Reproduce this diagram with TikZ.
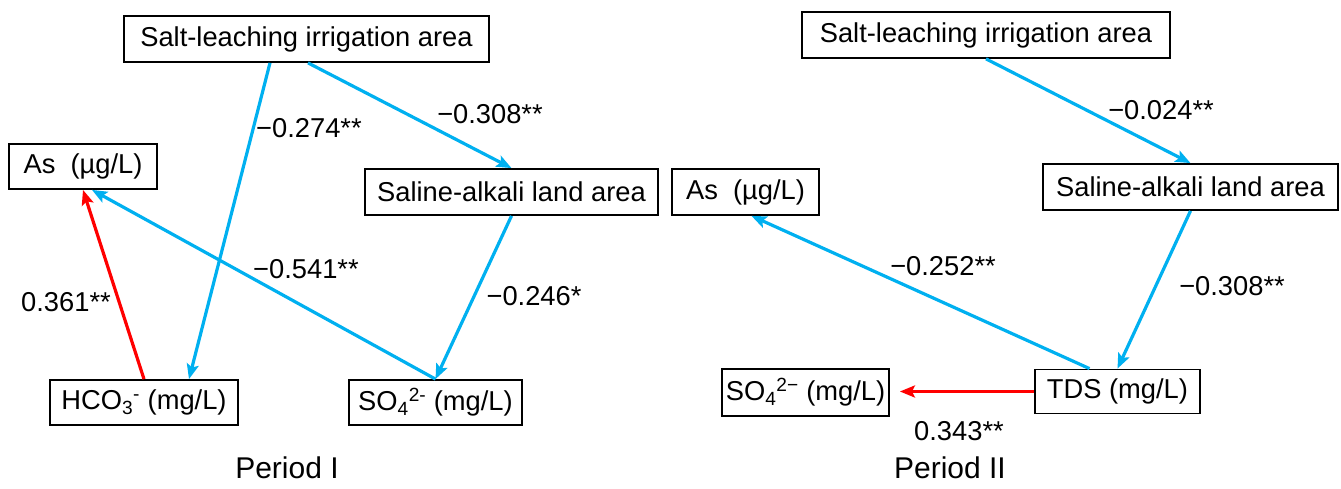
\documentclass[tikz,border=0pt]{standalone}
\usepackage{fontspec}
\setmainfont{Liberation Sans}
\usetikzlibrary{arrows.meta}
\definecolor{pathblue}{RGB}{0,176,240}
\definecolor{pathred}{RGB}{255,0,0}
\tikzset{
  varbox/.style={draw=black, line width=1.8pt, inner sep=0pt, fill=white,
    font=\fontsize{27.3}{32}\selectfont},
  coef/.style={inner sep=0pt, font=\fontsize{27.3}{32}\selectfont},
  periodlabel/.style={inner sep=0pt, font=\fontsize{30}{36}\selectfont},
  negpath/.style={draw=pathblue, line width=3.2pt,
    -{Stealth[length=15pt,width=12pt,inset=3pt]}},
  pospath/.style={draw=pathred, line width=3.2pt,
    -{Stealth[length=15pt,width=12pt,inset=3pt]}}
}
\begin{document}
\begin{tikzpicture}[x=1pt,y=-1pt]
\useasboundingbox (0,0) rectangle (1341,489);

% ---------- Period I ----------
\node[varbox, minimum width=365pt, minimum height=46pt] (sl1) at (306.5,39) {Salt-leaching irrigation area};
\node[varbox, minimum width=148pt, minimum height=45pt] (as1) at (83,166.5) {As\ \ (µg/L)};
\node[varbox, minimum width=293pt, minimum height=46pt] (sa1) at (511.5,192) {Saline-alkali land area};
\node[varbox, minimum width=188pt, minimum height=45pt] (hc1) at (144,402.5) {HCO\textsubscript{3}\textsuperscript{-} (mg/L)};
\node[varbox, minimum width=173pt, minimum height=45pt] (so1) at (435.5,402.5) {SO\textsubscript{4}\textsuperscript{2-} (mg/L)};

\draw[negpath] ([xshift=-36.5pt]sl1.south) -- ([xshift=45pt]hc1.north);
\draw[negpath] ([xshift=1.5pt]sl1.south) -- (sa1.north);
\draw[negpath] (sa1.south) -- (so1.north);
\draw[negpath] (so1.north) -- ([xshift=9pt]as1.south);
\draw[pospath] (hc1.north) -- (as1.south);

\node[coef] (c274) at (309,128) {−0.274**};
\node[coef] (c308a) at (490,114) {−0.308**};
\node[coef] (c541) at (306,269) {−0.541**};
\node[coef] (c246) at (534,296) {−0.246*};
\node[coef] (c361) at (66,302) {0.361**};

\node[periodlabel] (p1) at (287,468) {Period I};

% ---------- Period II ----------
\node[varbox, minimum width=368pt, minimum height=46pt] (sl2) at (986,35) {Salt-leaching irrigation area};
\node[varbox, minimum width=295pt, minimum height=46pt] (sa2) at (1190.5,187) {Saline-alkali land area};
\node[varbox, minimum width=147pt, minimum height=46pt] (as2) at (745.5,192) {As\ \ (µg/L)};
\node[varbox, minimum width=165pt, minimum height=44pt] (tds) at (1117.5,391.5) {TDS (mg/L)};
\node[varbox, minimum width=167pt, minimum height=47pt] (so2) at (805.5,392.5) {SO\textsubscript{4}\textsuperscript{2−} (mg/L)};

\draw[negpath] (sl2.south) -- (sa2.north);
\draw[negpath] (sa2.south) -- (tds.north);
\draw[negpath] ([xshift=-28pt]tds.north) -- ([xshift=6pt]as2.south);
\draw[pospath, shorten >=10pt] (tds.west) -- (tds.west -| so2.east);

\node[coef] (c024) at (1161,110) {−0.024**};
\node[coef] (c252) at (943,266) {−0.252**};
\node[coef] (c308b) at (1232,286) {−0.308**};
\node[coef] (c343) at (959,431) {0.343**};

\node[periodlabel] (p2) at (950,468) {Period II};
\end{tikzpicture}
\end{document}
